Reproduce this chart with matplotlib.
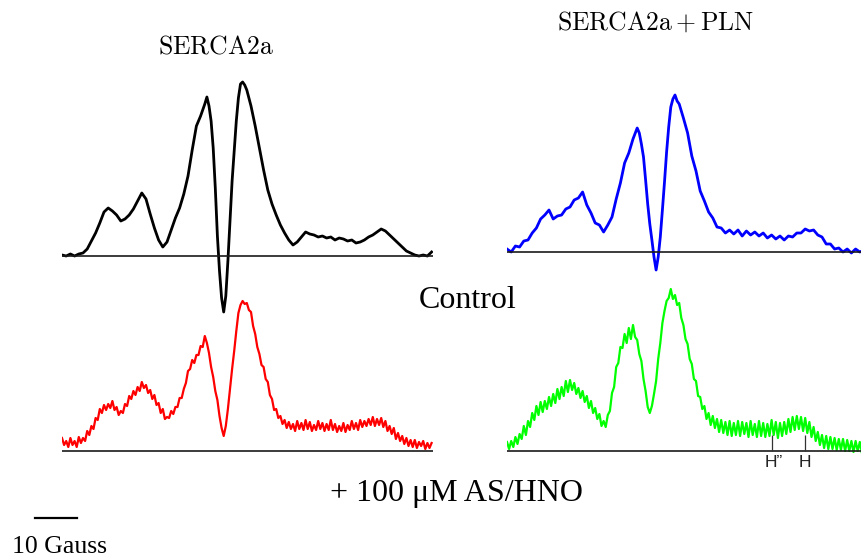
# EPR spectra of SERCA2a with / without PLN, control vs. + AS/HNO

import numpy as np
import matplotlib
matplotlib.use("Agg")
import matplotlib.pyplot as plt

plt.rcParams['mathtext.fontset'] = 'cm'

# ---- data (field in Gauss from the left end of the sweep, amplitude in a.u.) ----
serca_ctrl_field = list(range(0, 35)) + [34.5, 35, 35.5, 36, 36.5, 37, 37.5, 38, 38.5, 39,
                                         39.5, 40, 40.5, 41, 41.5, 42, 42.5, 43, 43.5] + list(range(44, 89))
serca_ctrl_amp = [1, 0, 2, 0, 2, 3, 7, 15, 23, 33, 44, 48, 45, 41, 35, 37, 41, 47, 55, 63,
                  57, 42, 28, 16, 9, 14, 26, 38, 48, 62, 80, 106, 130, 140, 152,
                  159, 150, 135, 108, 68, 20, -15, -42, -56, -40,
                  -5, 35, 75, 105, 135, 158, 172, 174, 171,
                  166, 150, 130, 108, 86, 66, 52, 41, 31, 23, 16, 11, 14, 19, 24, 22,
                  21, 19, 20, 18, 19, 16, 18, 17, 15, 16, 13, 14, 16, 19, 21, 24,
                  27, 25, 21, 17, 13, 9, 5, 3, 1, 0, 1, 0, 4]

pln_ctrl_field = list(range(0, 32)) + [31.5, 32, 32.5, 33, 33.5, 34, 34.5, 35, 35.5, 36,
                                       36.5, 37, 37.5, 38, 38.5, 39, 39.5, 40, 40.5, 41] + list(range(42, 86))
pln_ctrl_amp = [3, 0, 6, 5, 11, 12, 19, 24, 33, 37, 42, 33, 36, 37, 43, 45, 52, 54, 60, 47,
                39, 29, 27, 20, 27, 35, 53, 69, 89, 99, 113, 124,
                119, 108, 95, 72, 48, 28, 12, -5, -18, -5,
                15, 42, 70, 100, 125, 145, 153, 157, 151, 148,
                134, 119, 96, 81, 61, 51, 40, 34, 25, 24, 19, 22, 18, 22, 16, 21,
                17, 20, 16, 19, 14, 17, 13, 16, 12, 16, 15, 19, 19, 23, 21, 22,
                17, 15, 8, 8, 3, 4, 0, 3, -1, 3, 0, 2]

# red and green spectra read every 0.5 G (noisy)
serca_hno_amp = [13, 6, 10, 4, 13, 6, 10, 4, 14, 8, 13, 10, 20, 16, 25, 22, 33, 31, 42, 38,
                 46, 41, 47, 43, 50, 41, 44, 36, 40, 38, 47, 45, 55, 52, 60, 56, 64, 60, 69, 63,
                 66, 58, 61, 52, 56, 46, 48, 38, 42, 32, 34, 33, 40, 37, 44, 44, 53, 53, 62, 68,
                 80, 82, 91, 88, 96, 96, 105, 104, 115, 108, 98, 84, 74, 60, 51, 35, 23, 15, 25, 42,
                 62, 82, 100, 120, 138, 146, 150, 147, 148, 141, 139, 125, 117, 104, 97, 86, 84, 72, 69, 56,
                 52, 41, 42, 33, 35, 27, 31, 23, 29, 22, 27, 20, 30, 22, 28, 21, 31, 22, 29, 20,
                 26, 21, 30, 22, 28, 20, 27, 21, 31, 21, 27, 19, 25, 20, 28, 19, 26, 21, 30, 22,
                 28, 21, 31, 24, 30, 25, 32, 26, 34, 25, 32, 26, 33, 24, 30, 20, 25, 17, 23, 12,
                 18, 10, 15, 7, 13, 5, 11, 4, 11, 3, 9, 5, 10, 2, 8, 3, 8]
serca_hno_field = [i / 2 for i in range(len(serca_hno_amp))]

pln_hno_amp = [9, 2, 10, 4, 14, 7, 17, 12, 25, 16, 30, 24, 38, 31, 45, 36, 49, 39, 50, 42,
               54, 45, 57, 48, 62, 52, 64, 55, 70, 59, 71, 61, 68, 57, 63, 53, 60, 49, 55, 43,
               50, 38, 43, 32, 37, 25, 30, 24, 36, 40, 58, 64, 84, 88, 104, 103, 117, 108, 123, 112,
               126, 114, 111, 97, 90, 72, 60, 44, 38, 45, 57, 70, 92, 108, 128, 140, 150, 153, 162, 152,
               156, 146, 148, 133, 126, 112, 107, 92, 87, 72, 70, 55, 54, 42, 45, 32, 38, 26, 35, 23,
               32, 19, 31, 18, 29, 16, 30, 15, 28, 16, 30, 15, 29, 17, 28, 14, 30, 16, 27, 14,
               30, 15, 28, 14, 27, 15, 31, 16, 29, 13, 28, 15, 29, 17, 32, 19, 34, 21, 35, 22,
               34, 20, 33, 18, 29, 14, 24, 10, 19, 6, 16, 3, 15, 2, 14, 2, 13, 1, 12, 1,
               12, 0, 11, 0, 10, -1, 10, 0, 9, -2, 8]
pln_hno_field = [i / 2 for i in range(len(pln_hno_amp))]

# hyperfine markers on the last spectrum
marker_field = [63.1, 70.9]
marker_labels = ["H\u201d", "H"]
scale_bar_gauss = 10

# ---- layout (pixel geometry of the original figure) ----
W, H = 861, 557
fig = plt.figure(figsize=(W / 100, H / 100), dpi=100)

px_per_gauss = 4.2
span_px = 371


def panel(x0, baseline):
    ax = fig.add_axes([x0 / W, 1 - (baseline + 60) / H, span_px / W, 240 / H])
    ax.set_xlim(0, span_px / px_per_gauss)
    ax.set_ylim(-60, 180)
    ax.axis('off')
    ax.patch.set_visible(False)
    ax.axhline(0, color='#1a1a1a', lw=1.2, zorder=3)
    return ax


ax_tl = panel(62, 256)
ax_tr = panel(507, 252)
ax_bl = panel(62, 451)
ax_br = panel(507, 451)

ax_tl.plot(serca_ctrl_field, serca_ctrl_amp, color='black', lw=2.0)
ax_tr.plot(pln_ctrl_field, pln_ctrl_amp, color='#0000ff', lw=2.0)
ax_bl.plot(serca_hno_field, serca_hno_amp, color='#ff0000', lw=1.6)
ax_br.plot(pln_hno_field, pln_hno_amp, color='#00ff00', lw=1.6)

# H'' and H markers
ax_br.vlines(marker_field, 0, 16, color='#333333', lw=0.9, zorder=4)
ax_br.text(marker_field[0] - 1.7, -11.5, marker_labels[0], ha='left', va='center',
           family='Liberation Sans', fontsize=12.5, color='#222222')
ax_br.text(marker_field[1], -11.5, marker_labels[1], ha='center', va='center',
           family='Liberation Sans', fontsize=12.5, color='#222222')

# 10 Gauss scale bar
bar_start = -6.4
ax_bl.plot([bar_start, bar_start + scale_bar_gauss], [-67, -67], color='black',
           lw=1.6, clip_on=False)
fig.text(12 / W, 1 - 547 / H, "10 Gauss", ha='left', va='center',
         family='Liberation Serif', fontsize=18.5)

# titles
fig.text(216 / W, 1 - 47 / H, r'$\mathrm{SERCA2a}$', ha='center', va='center', fontsize=18.5)
fig.text(656 / W, 1 - 23 / H, r'$\mathrm{SERCA2a + PLN}$', ha='center', va='center', fontsize=18.5)

fig.text(468 / W, 1 - 301 / H, "Control", ha='center', va='center',
         family='Liberation Serif', fontsize=23)
fig.text(456 / W, 1 - 493 / H, "+ 100 \u03bcM AS/HNO", ha='center', va='center',
         family='Liberation Serif', fontsize=23)

fig.savefig("out.png", dpi=100)
